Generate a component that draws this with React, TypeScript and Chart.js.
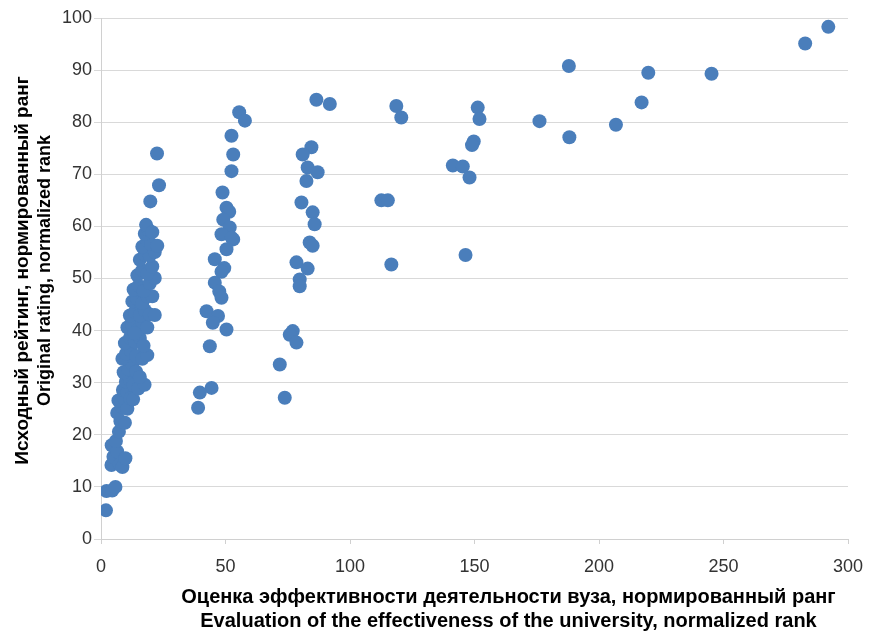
import React, { useEffect, useRef } from "react";
import { Chart, registerables } from "chart.js";

Chart.register(...registerables);

// Dense cluster (x ≈ 0–25)
const clusterX = [
  2.0, 2.2, 4.5, 5.8, 4.2, 5.0, 4.3, 6.5, 7.5, 8.6, 9.8, 6.0, 7.2, 7.8, 9.6, 6.5, 8.2, 7.0, 9.3, 10.6,
  8.8, 10.6, 11.7, 12.9, 10.0, 11.6, 13.1, 15.0, 17.5, 9.1, 11.0, 12.6, 14.1, 15.6, 8.6, 10.1, 12.1, 14.1, 16.6, 18.6,
  9.6, 11.6, 13.6, 15.6, 17.1, 10.6, 12.6, 14.6, 16.6, 18.6, 11.6, 13.6, 15.6, 17.6, 19.6, 21.6, 12.6, 14.6, 16.6, 18.6,
  20.6, 13.1, 15.1, 17.1, 19.6, 21.6, 14.6, 16.6, 18.6, 20.6, 15.6, 17.6, 19.6, 21.6, 16.6, 18.6, 20.1, 17.6, 19.1, 18.1,
  22.6, 19.8, 23.3, 22.5, 20.6, 13.5,
];
const clusterY = [
  5.5, 9.2, 9.3, 10.0, 14.2, 15.8, 18.0, 16.8, 14.3, 13.8, 15.5, 18.8, 20.6, 22.6, 22.3, 24.2, 25.4, 26.6, 26.9, 25.0,
  28.6, 28.2, 27.0, 26.8, 30.2, 30.6, 29.5, 28.9, 29.6, 32.0, 32.6, 33.6, 32.1, 31.1, 34.6, 35.6, 36.1, 35.1, 34.6, 35.3,
  37.6, 38.6, 37.9, 38.6, 37.1, 40.6, 41.1, 40.1, 41.6, 40.6, 42.9, 43.6, 42.9, 43.9, 43.1, 43.0, 45.6, 46.1, 45.3, 46.6,
  46.6, 47.9, 48.6, 47.6, 49.1, 50.1, 50.6, 51.6, 50.9, 52.3, 53.6, 54.6, 54.4, 55.1, 56.1, 57.3, 56.6, 58.6, 59.3, 60.3,
  56.3, 64.8, 67.9, 74.0, 58.9, 39.5,
];

// Column around x ≈ 40–58
const groupBX = [
  55.5, 57.8, 52.4, 53.1, 52.4, 48.8, 50.4, 51.5, 49.1, 51.7, 48.4, 53.1, 52.5, 50.4, 45.7, 49.5, 48.4, 45.7, 47.5, 48.4,
  42.4, 47.0, 44.9, 50.4, 43.7, 44.4, 39.7, 39.0,
];
const groupBY = [
  81.9, 80.3, 77.4, 73.8, 70.6, 66.5, 63.6, 62.8, 61.3, 59.8, 58.5, 57.5, 57.8, 55.6, 53.7, 52.0, 51.3, 49.2, 47.5, 46.3,
  43.7, 42.8, 41.5, 40.2, 37.0, 29.0, 28.1, 25.2,
];

// Column around x ≈ 72–92
const groupCX = [
  86.5, 91.9, 84.5, 81.0, 83.0, 87.0, 82.5, 80.5, 85.0, 85.8, 83.8, 85.0, 78.5, 83.0, 79.8, 79.8, 77.0, 75.8, 78.5, 71.8,
  73.8,
];
const groupCY = [
  84.3, 83.5, 75.2, 73.8, 71.3, 70.4, 68.7, 64.6, 62.7, 60.4, 56.9, 56.3, 53.1, 51.9, 49.8, 48.5, 39.9, 39.2, 37.7, 33.5,
  27.1,
];

// Points around x ≈ 112–152
const groupDX = [118.6, 120.6, 151.3, 152.0, 149.7, 149.0, 141.3, 145.3, 148.0, 112.6, 115.2, 116.6, 146.4];
const groupDY = [83.1, 80.9, 82.8, 80.6, 76.3, 75.6, 71.7, 71.5, 69.4, 65.0, 65.0, 52.7, 54.5];

// Sparse points x ≈ 176–292
const groupEX = [187.9, 176.1, 188.1, 206.8, 217.1, 219.8, 245.2, 282.8, 292.1];
const groupEY = [90.8, 80.2, 77.1, 79.5, 83.8, 89.5, 89.3, 95.1, 98.3];

const xTitleLines = [
  "Оценка эффективности деятельности вуза, нормированный ранг",
  "Evaluation of the effectiveness of the university, normalized rank",
];
const yTitleLines = ["Исходный рейтинг, нормированный ранг", "Original rating, normalized rank"];

const xMin = 0, xMax = 300, xStep = 50;
const yMin = 0, yMax = 100, yStep = 10;

function zip(xs: number[], ys: number[]) {
  return xs.map((x, i) => ({ x, y: ys[i] }));
}

const FONT = "'Liberation Sans', Arial, sans-serif";

export default function App() {
  const ref = useRef<HTMLCanvasElement | null>(null);

  useEffect(() => {
    if (!ref.current) return;
    const points = [
      ...zip(clusterX, clusterY),
      ...zip(groupBX, groupBY),
      ...zip(groupCX, groupCY),
      ...zip(groupDX, groupDY),
      ...zip(groupEX, groupEY),
    ];

    const titlesPlugin = {
      id: "titlesPlugin",
      afterDraw(chart: any) {
        const ctx = chart.ctx;
        const area = chart.chartArea;
        ctx.save();
        ctx.fillStyle = "#000";
        ctx.textAlign = "center";
        ctx.textBaseline = "alphabetic";
        // x-axis title
        ctx.font = `bold 20px ${FONT}`;
        const cx = (area.left + area.right) / 2 + 34;
        ctx.fillText(xTitleLines[0], cx, area.bottom + 64);
        ctx.fillText(xTitleLines[1], cx, area.bottom + 88);
        // y-axis title (rotated)
        const cy = (area.top + area.bottom) / 2 - 8;
        ctx.save();
        ctx.translate(28, cy);
        ctx.rotate(-Math.PI / 2);
        ctx.font = `bold 19px ${FONT}`;
        ctx.fillText(yTitleLines[0], 0, 0);
        ctx.restore();
        ctx.save();
        ctx.translate(50, cy);
        ctx.rotate(-Math.PI / 2);
        ctx.font = `bold 18px ${FONT}`;
        ctx.fillText(yTitleLines[1], 0, 0);
        ctx.restore();
        ctx.restore();
      },
    };

    const chart = new Chart(ref.current, {
      type: "scatter",
      data: {
        datasets: [
          {
            data: points,
            backgroundColor: "#4a7ebb",
            borderWidth: 0,
            pointRadius: 7,
            pointHoverRadius: 7,
          },
        ],
      },
      options: {
        animation: false,
        responsive: false,
        maintainAspectRatio: false,
        layout: { padding: { left: 0, right: 23, top: 18, bottom: 0 } },
        plugins: { legend: { display: false }, tooltip: { enabled: false } },
        scales: {
          x: {
            type: "linear",
            min: xMin,
            max: xMax,
            afterFit: (s: any) => {
              s.height = 93;
              s.paddingRight = 0;
              s.paddingLeft = 0;
            },
            ticks: {
              stepSize: xStep,
              color: "#333",
              font: { family: FONT, size: 18 },
              padding: 12,
              maxRotation: 0,
            },
            grid: {
              drawOnChartArea: false,
              drawTicks: true,
              tickLength: 5,
              color: "#d0d0d0",
            },
            border: { display: true, color: "#d0d0d0" },
          },
          y: {
            type: "linear",
            min: yMin,
            max: yMax,
            afterFit: (s: any) => {
              s.width = 101;
            },
            ticks: {
              stepSize: yStep,
              color: "#333",
              font: { family: FONT, size: 18 },
              padding: 2,
            },
            grid: { color: "#d9d9d9", tickLength: 7, lineWidth: 1 },
            border: { display: true, color: "#d0d0d0" },
          },
        },
      },
      plugins: [titlesPlugin],
    });
    return () => chart.destroy();
  }, []);

  return (
    <div style={{ position: "fixed", left: 0, top: 0, width: 871, height: 632, background: "#fff" }}>
      <canvas ref={ref} width={871} height={632} style={{ display: "block" }} />
    </div>
  );
}
